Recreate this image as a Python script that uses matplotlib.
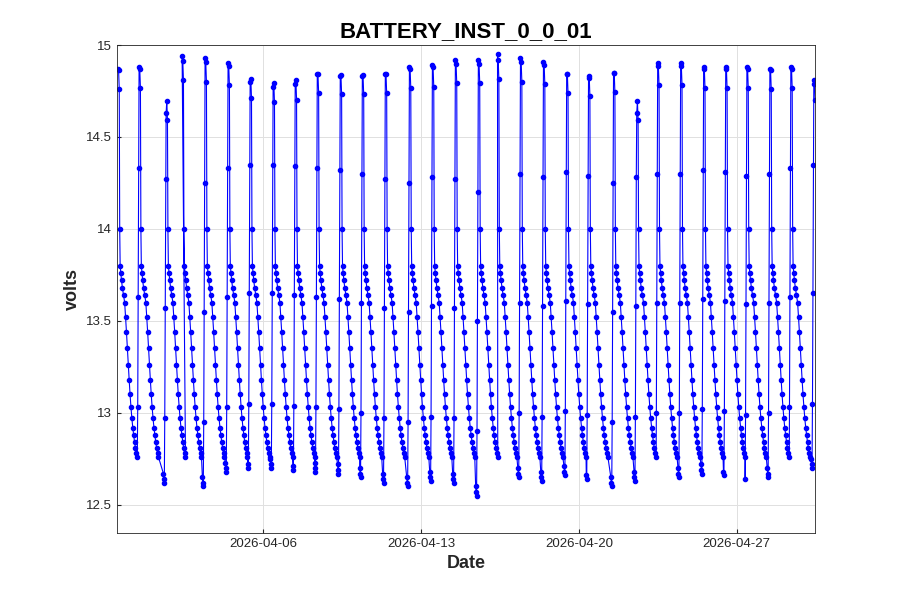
import numpy as np
import matplotlib
matplotlib.use("Agg")
import matplotlib.pyplot as plt
import matplotlib.dates as mdates
from matplotlib.ticker import FuncFormatter
from datetime import datetime, timedelta

plt.rcParams['font.family'] = ['Liberation Sans', 'DejaVu Sans']

# -------------------------- data ----------------------
start = datetime(2026, 3, 30, 12, 0)
# charge peak times (days after start) and peak voltages
peak_days = [0.04, 0.98, 2.18, 2.89, 3.91, 4.93, 5.91, 6.93, 7.91, 8.89, 9.91,
             10.89, 11.91, 12.98, 14.0, 15.02, 16.04, 16.89, 17.91, 18.93, 19.96,
             20.93, 22.04, 23.07, 24.0, 25.02, 26.04, 27.02, 27.96, 28.98, 29.91, 30.93]
peak_volts = [14.87, 14.88, 14.63, 14.94, 14.93, 14.90, 14.80, 14.77, 14.79, 14.84, 14.83,
              14.83, 14.84, 14.88, 14.89, 14.92, 14.92, 14.95, 14.93, 14.91, 14.84,
              14.82, 14.85, 14.63, 14.90, 14.90, 14.88, 14.88, 14.88, 14.87, 14.88, 14.79]
# lowest voltage just before each peak (first peak has none)
trough_volts = [None, 12.68, 12.62, 12.57, 12.60, 12.68, 12.70, 12.70, 12.69, 12.68, 12.67,
                12.65, 12.62, 12.60, 12.63, 12.62, 12.55, 12.57, 12.65, 12.63, 12.66,
                12.64, 12.60, 12.63, 12.65, 12.65, 12.67, 12.66, 12.64, 12.65, 12.68, 12.70]
# discharge shape after a peak: (offset days, volts)
decay_dt = [0.03, 0.06, 0.08, 0.10, 0.13, 0.16, 0.20, 0.25, 0.30, 0.34, 0.38, 0.42,
            0.46, 0.50, 0.54, 0.58, 0.62, 0.66, 0.70, 0.74, 0.78, 0.82, 0.86]
decay_v = [14.85, 14.5, 14.0, 13.8, 13.76, 13.72, 13.68, 13.64, 13.60, 13.52, 13.44, 13.35,
           13.26, 13.18, 13.10, 13.03, 12.97, 12.92, 12.88, 12.84, 12.81, 12.78, 12.76]
# rise shape before a peak: (offset days, volts above trough)
rise_dt = [-0.12, -0.10, -0.08, -0.06, -0.04, -0.02]
rise_v = [0.05, 0.02, 0.0, 0.35, 0.95, 1.65]

# -------------------------- assemble series --------------------------------
t, v = [], []
for i, (pd_, pv) in enumerate(zip(peak_days, peak_volts)):
    tv = trough_volts[i]
    if tv is not None:
        for dt, dv in zip(rise_dt, rise_v):
            if pd_ + dt > t[-1]:
                t.append(pd_ + dt); v.append(tv + dv)
    t.append(pd_); v.append(pv)
    for dt, dv in zip(decay_dt, decay_v):
        if pd_ + dt > 30.99:
            break
        t.append(pd_ + dt); v.append(dv if dt > 0.06 else pv - (pv - dv) * 0.3)
times = [start + timedelta(days=d) for d in t]

# -------------------------- plot -------------------------------------------
fig = plt.figure(figsize=(9, 6), dpi=100)
ax = fig.add_axes([0.13, 0.112, 0.776, 0.813])
ax.plot(times, v, '-', color='blue', lw=0.8, marker='.', ms=6)
ax.set_xlim(start, start + timedelta(days=31.0))
ax.set_ylim(12.348, 15)
ax.set_yticks([12.5, 13, 13.5, 14, 14.5, 15])
ax.yaxis.set_major_formatter(FuncFormatter(lambda y, p: f"{y:g}"))
ax.set_xticks([datetime(2026, 4, 6), datetime(2026, 4, 13),
               datetime(2026, 4, 20), datetime(2026, 4, 27)])
ax.xaxis.set_major_formatter(mdates.DateFormatter('%Y-%m-%d'))
ax.grid(True, color='#e0e0e0', lw=0.7)
for s in ax.spines.values():
    s.set_color('#262626'); s.set_linewidth(0.6)
ax.tick_params(labelsize=9.5, direction='in', length=3, colors='#262626')
ax.set_xlabel("Date", fontsize=13, fontweight='bold', color='#262626')
ax.set_ylabel("volts", fontsize=13, fontweight='bold', color='#262626')
ax.set_title("BATTERY_INST_0_0_01", fontsize=16, fontweight='bold')
fig.savefig("out.png")
